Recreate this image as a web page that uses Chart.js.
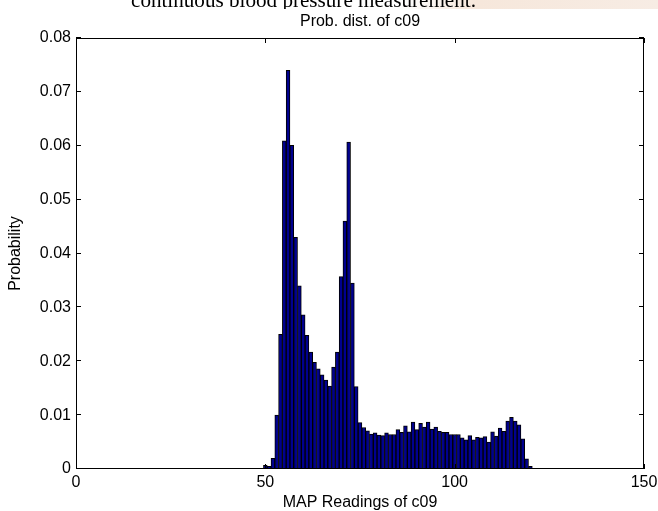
<!DOCTYPE html>
<html>
<head>
<meta charset="utf-8">
<title>Prob. dist. of c09</title>
<script src="https://cdn.jsdelivr.net/npm/chart.js"></script>
<style>
    body { margin: 0; background: #ffffff; }
    canvas { display: block; }
</style>
</head>
<body>
<canvas id="probChart" width="658" height="511"></canvas>
<script>
// histogram bins (MAP reading) and their probabilities
var mapBins = [50, 51, 52, 53, 54, 55, 56, 57, 58, 59,
               60, 61, 62, 63, 64, 65, 66, 67, 68, 69,
               70, 71, 72, 73, 74, 75, 76, 77, 78, 79,
               80, 81, 82, 83, 84, 85, 86, 87, 88, 89,
               90, 91, 92, 93, 94, 95, 96, 97, 98, 99,
               100, 101, 102, 103, 104, 105, 106, 107, 108, 109,
               110, 111, 112, 113, 114, 115, 116, 117, 118, 119,
               120];
var probValues = [0.0007, 0.0005, 0.0020, 0.0100, 0.0250, 0.0609, 0.0740, 0.0601, 0.0430, 0.0340,
                  0.0286, 0.0248, 0.0217, 0.0198, 0.0186, 0.0175, 0.0165, 0.0154, 0.0189, 0.0217,
                  0.0357, 0.0460, 0.0607, 0.0345, 0.0153, 0.0086, 0.0077, 0.0071, 0.0065, 0.0067,
                  0.0063, 0.0062, 0.0067, 0.0064, 0.0064, 0.0073, 0.0068, 0.0080, 0.0069, 0.0087,
                  0.0073, 0.0085, 0.0078, 0.0087, 0.0074, 0.0078, 0.0070, 0.0068, 0.0068, 0.0064,
                  0.0064, 0.0064, 0.0058, 0.0054, 0.0062, 0.0054, 0.0059, 0.0058, 0.0060, 0.0050,
                  0.0069, 0.0061, 0.0076, 0.0070, 0.0089, 0.0096, 0.0089, 0.0082, 0.0056, 0.0019,
                  0.0005];
var xTicks = [0, 50, 100, 150];
var yTicks = [0, 0.01, 0.02, 0.03, 0.04, 0.05, 0.06, 0.07, 0.08];

var titleText = "Prob. dist. of c09";
var xTitle = "MAP Readings of c09";
var yTitle = "Probability";
var pageText = "continuous blood pressure measurement.";

var labelFont = "'Liberation Sans', Arial, sans-serif";
var labelSize = 16;

var points = [];
for (var i = 0; i < mapBins.length; i++)
{
    points.push({ x: mapBins[i], y: probValues[i] });
}

// white page, the clipped line of document text and its beige band on top
var pageBackground = {
    id: "pageBackground",
    beforeDraw: function (chart)
    {
        var ctx = chart.ctx;
        ctx.save();
        ctx.fillStyle = "#ffffff";
        ctx.fillRect(0, 0, chart.width, chart.height);

        var grad = ctx.createLinearGradient(400, 0, 658, 0);
        grad.addColorStop(0, "rgba(246,231,219,0)");
        grad.addColorStop(0.3, "rgba(246,231,219,1)");
        grad.addColorStop(1, "rgba(247,236,228,1)");
        ctx.fillStyle = grad;
        ctx.fillRect(400, 0, 258, 9);

        ctx.beginPath();
        ctx.rect(0, 0, chart.width, 9);
        ctx.clip();
        ctx.font = "22px 'Liberation Serif', 'Times New Roman', serif";
        var w = ctx.measureText(pageText).width;
        var size = 22 * 345 / w;
        ctx.font = size.toFixed(2) + "px 'Liberation Serif', 'Times New Roman', serif";
        ctx.fillStyle = "#000000";
        ctx.textBaseline = "alphabetic";
        ctx.fillText(pageText, 131, 7);
        ctx.restore();
    }
};

// MATLAB style box with inward tick marks
var axesBox = {
    id: "axesBox",
    afterDraw: function (chart)
    {
        var ctx = chart.ctx;
        var area = chart.chartArea;
        var xs = chart.scales.x;
        var ys = chart.scales.y;
        var len = 5;
        ctx.save();
        ctx.strokeStyle = "#000000";
        ctx.lineWidth = 1;
        ctx.beginPath();
        xTicks.forEach(function (v)
        {
            var px = Math.round(xs.getPixelForValue(v)) + 0.5;
            ctx.moveTo(px, area.bottom);
            ctx.lineTo(px, area.bottom - len);
            ctx.moveTo(px, area.top);
            ctx.lineTo(px, area.top + len);
        });
        yTicks.forEach(function (v)
        {
            var py = Math.round(ys.getPixelForValue(v)) - 0.5;
            ctx.moveTo(area.left, py);
            ctx.lineTo(area.left + len, py);
            ctx.moveTo(area.right, py);
            ctx.lineTo(area.right - len, py);
        });
        ctx.stroke();
        ctx.strokeRect(area.left + 0.5, area.top + 0.5, area.right - area.left - 1, area.bottom - area.top - 1);
        ctx.restore();
    }
};

var probChart = new Chart(document.getElementById("probChart"), {
    type: "bar",
    data: {
        datasets: [{
            label: "probability",
            data: points,
            backgroundColor: "#00008f",
            borderColor: "#000000",
            borderWidth: 1,
            barPercentage: 1,
            categoryPercentage: 1
        }]
    },
    options: {
        responsive: false,
        animation: false,
        layout: {
            padding: { left: 0, right: 14, top: 0, bottom: 0 }
        },
        plugins: {
            legend: { display: false },
            tooltip: { enabled: false },
            title: {
                display: true,
                fullSize: false,
                text: titleText,
                color: "#000000",
                font: { family: labelFont, size: labelSize, weight: "normal" },
                padding: { top: 12, bottom: 6.8 }
            }
        },
        scales: {
            x: {
                type: "linear",
                min: 0,
                max: 150,
                offset: false,
                grid: { display: false, drawTicks: false },
                border: { display: false },
                ticks: {
                    stepSize: 50,
                    padding: 4,
                    color: "#000000",
                    maxRotation: 0,
                    font: { family: labelFont, size: labelSize }
                },
                title: {
                    display: true,
                    text: xTitle,
                    color: "#000000",
                    font: { family: labelFont, size: labelSize, lineHeight: 1 },
                    padding: { top: 0, bottom: 0 }
                },
                afterFit: function (scale)
                {
                    scale.height = 42;
                    scale.paddingLeft = 0;
                    scale.paddingRight = 0;
                }
            },
            y: {
                min: 0,
                max: 0.08,
                grid: { display: false, drawTicks: false },
                border: { display: false },
                ticks: {
                    stepSize: 0.01,
                    padding: 5,
                    color: "#000000",
                    font: { family: labelFont, size: labelSize },
                    callback: function (v)
                    {
                        return v === 0 ? "0" : Number(v).toFixed(2);
                    }
                },
                title: {
                    display: true,
                    text: yTitle,
                    color: "#000000",
                    font: { family: labelFont, size: labelSize },
                    padding: { top: 6.4, bottom: 0 }
                },
                afterFit: function (scale)
                {
                    scale.width = 76;
                    scale.paddingTop = 0;
                    scale.paddingBottom = 0;
                }
            }
        }
    },
    plugins: [pageBackground, axesBox]
});
</script>
</body>
</html>
